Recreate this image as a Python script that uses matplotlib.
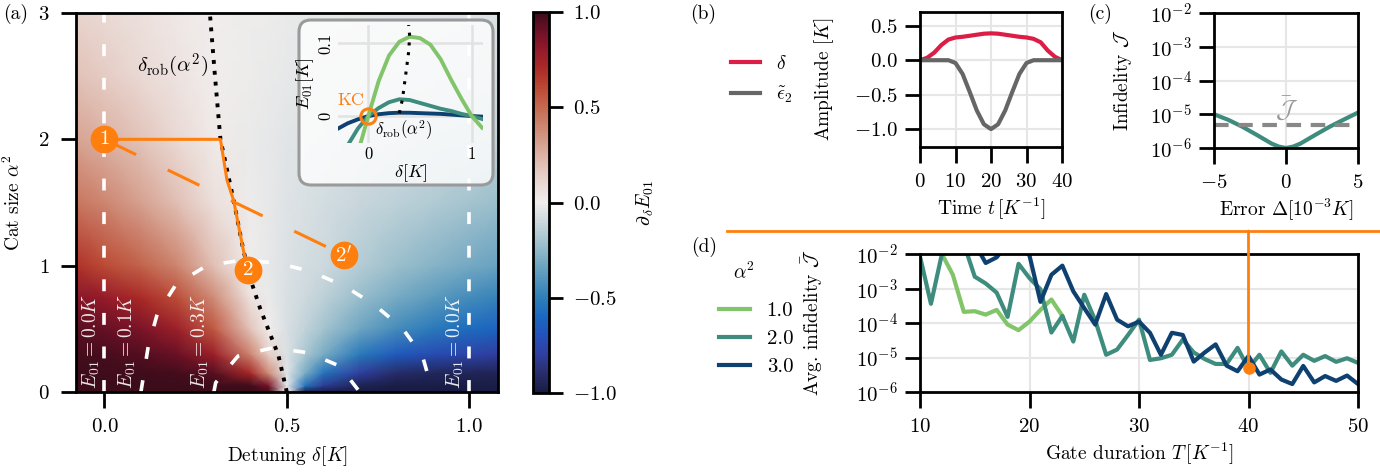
import numpy as np
import matplotlib
matplotlib.use("Agg")
import matplotlib.pyplot as plt
from matplotlib.colors import LinearSegmentedColormap
from matplotlib.patches import FancyBboxPatch, ConnectionPatch
from matplotlib.lines import Line2D
import matplotlib.transforms as mtransforms

FS = 14
TS = 15
plt.rcParams.update({
    "font.family": "serif", "font.serif": ["cmr10"], "mathtext.fontset": "cm",
    "axes.unicode_minus": False, "axes.formatter.use_mathtext": True,
    "font.size": FS, "axes.linewidth": 2.0,
    "xtick.major.size": 11.5, "ytick.major.size": 11,
    "xtick.major.width": 2.0, "ytick.major.width": 2.0,
    "xtick.major.pad": 7, "ytick.major.pad": 5,
    "xtick.labelsize": TS, "ytick.labelsize": TS,
})

# ---------------- data: panel (a) heatmap  d/d(delta) E01 ----------------
delta_grid = [-0.08, 0.0, 0.1, 0.2, 0.3, 0.4, 0.45, 0.5, 0.55, 0.6, 0.7, 0.8, 0.9, 1.0, 1.08]
alpha2_grid = [0.0, 0.05, 0.15, 0.3, 0.5, 0.75, 1.0, 1.5, 2.0, 2.5, 3.0]
dE_row_000 = [1, 1, 1, 1, 1, 1, 1, 0.0, -1, -1, -1, -1, -1, -1, -1]
dE_row_005 = [1, 1, 1, 1, 1, 0.99, 0.87, -0.03, -0.55, -0.82, -0.96, -0.99, -0.99, -0.99, -0.99]
dE_row_015 = [1, 0.99, 0.99, 0.98, 0.94, 0.72, 0.38, -0.04, -0.3, -0.55, -0.8, -0.9, -0.93, -0.94, -0.95]
dE_row_030 = [0.98, 0.97, 0.95, 0.9, 0.76, 0.4, 0.14, -0.06, -0.18, -0.3, -0.52, -0.66, -0.73, -0.77, -0.8]
dE_row_050 = [0.94, 0.91, 0.86, 0.76, 0.55, 0.18, 0.0, -0.07, -0.13, -0.2, -0.33, -0.44, -0.52, -0.58, -0.62]
dE_row_075 = [0.83, 0.79, 0.71, 0.58, 0.38, 0.05, -0.02, -0.07, -0.1, -0.14, -0.23, -0.31, -0.38, -0.44, -0.48]
dE_row_100 = [0.68, 0.60, 0.52, 0.40, 0.20, -0.005, -0.03, -0.055, -0.08, -0.1, -0.16, -0.22, -0.27, -0.32, -0.35]
dE_row_150 = [0.46, 0.40, 0.31, 0.20, 0.07, -0.015, -0.03, -0.05, -0.065, -0.08, -0.11, -0.14, -0.17, -0.20, -0.22]
dE_row_200 = [0.30, 0.25, 0.18, 0.10, 0.02, -0.02, -0.03, -0.04, -0.05, -0.06, -0.08, -0.1, -0.11, -0.12, -0.13]
dE_row_250 = [0.19, 0.15, 0.10, 0.05, 0.0, -0.015, -0.02, -0.03, -0.035, -0.04, -0.05, -0.06, -0.07, -0.08, -0.09]
dE_row_300 = [0.12, 0.1, 0.07, 0.03, 0.0, -0.01, -0.015, -0.02, -0.025, -0.03, -0.035, -0.04, -0.045, -0.05, -0.055]

# E01 contour lines
c00_left_delta, c00_right_delta, c00_alpha2 = [0.0, 0.0], [1.0, 1.0], [0.0, 3.0]
c01_delta = [0.1, 0.105, 0.12, 0.145, 0.196, 0.28, 0.38, 0.475, 0.565, 0.659, 0.74, 0.816, 0.872, 0.9]
c01_alpha2 = [0.0, 0.09, 0.36, 0.62, 0.85, 1.0, 1.045, 1.02, 0.955, 0.837, 0.69, 0.508, 0.284, 0.0]
c03_delta = [0.3, 0.305, 0.366, 0.461, 0.56, 0.645, 0.7]
c03_alpha2 = [0.0, 0.074, 0.284, 0.35, 0.31, 0.205, 0.0]
# robust detuning curve
rob_alpha2 = [0.0, 0.29, 0.49, 0.66, 0.86, 1.12, 1.52, 2.0, 2.5, 3.0]
rob_delta = [0.5, 0.477, 0.45, 0.427, 0.404, 0.381, 0.354, 0.318, 0.303, 0.289]
# orange protocol paths
path_delta = [0.0, 0.318, 0.336, 0.354, 0.381, 0.393]
path_alpha2 = [2.0, 2.0, 1.677, 1.518, 1.121, 0.968]
point_names = ["1", "2", "2'"]
point_delta = [0.0, 0.393, 0.657]
point_alpha2 = [2.0, 0.968, 1.082]
contour_labels = [r"$E_{01}=0.0K$", r"$E_{01}=0.1K$", r"$E_{01}=0.3K$", r"$E_{01}=0.0K$"]
contour_label_delta = [-0.036, 0.063, 0.262, 0.962]

# inset: E01 vs delta
in1_delta = [-0.08, 0.0, 0.1, 0.2, 0.3, 0.4, 0.5, 0.6, 0.7, 0.8, 0.9, 1.0, 1.1]
in1_E = [-0.04, 0.0, 0.048, 0.083, 0.102, 0.109, 0.107, 0.098, 0.078, 0.05, 0.024, 0.0, -0.016]
in2_delta = [-0.19, -0.1, 0.0, 0.1, 0.2, 0.3, 0.4, 0.5, 0.6, 0.7, 0.8, 0.9, 1.0, 1.1]
in2_E = [-0.038, -0.017, 0.0, 0.011, 0.019, 0.023, 0.022, 0.018, 0.014, 0.01, 0.007, 0.003, 0.0, -0.004]
in3_delta = [-0.29, -0.2, -0.1, 0.0, 0.1, 0.2, 0.3, 0.4, 0.5, 0.6, 0.7, 0.8, 0.9, 1.0, 1.1]
in3_E = [-0.017, -0.01, -0.0045, 0.0, 0.0025, 0.004, 0.0046, 0.0045, 0.004, 0.0035, 0.003, 0.002, 0.001, 0.0, -0.0008]
inrob_delta = [0.30, 0.33, 0.36, 0.39, 0.40, 0.39]
inrob_E = [0.004, 0.023, 0.055, 0.088, 0.11, 0.125]

# ---------------- panel (b) ----------------
t_vals = [0, 2, 4, 6, 8, 10, 12, 14, 16, 18, 20, 22, 24, 26, 28, 30, 32, 34, 36, 38, 40]
delta_t = [0, 0.035, 0.11, 0.22, 0.30, 0.33, 0.34, 0.355, 0.37, 0.385, 0.39, 0.385, 0.37, 0.355, 0.34, 0.33, 0.31, 0.26, 0.14, 0.05, 0]
eps_t = [0, 0, 0, 0, 0, -0.04, -0.2, -0.46, -0.73, -0.93, -1.0, -0.93, -0.73, -0.46, -0.2, -0.04, 0, 0, 0, 0, 0]

# ---------------- panel (c) ----------------
err_vals = [-5, -4, -3, -2, -1, -0.5, 0, 0.5, 1, 2, 3, 4, 5]
infid_vals = [1.0e-5, 6.8e-6, 4.2e-6, 2.4e-6, 1.35e-6, 1.1e-6, 1.0e-6, 1.1e-6, 1.35e-6, 2.4e-6, 4.2e-6, 6.9e-6, 1.12e-5]
avg_infid = 4.8e-6
log_ticks = [1e-6, 1e-5, 1e-4, 1e-3, 1e-2]

# ---------------- panel (d) ----------------
nan = np.nan
T_vals = list(range(10, 51))
J_a1 = [nan, 3e-2, 1.0e-2, 2.5e-3, 2.1e-4, 2.2e-4, 1.75e-4, 2.4e-4, 9e-5, 6.2e-5, 1.1e-4, 2.4e-4, 4.8e-4, 1.6e-4] + [nan] * 27
J_a2 = [8.5e-3, 3.6e-4, 1.0e-2, 2.5e-2, 2.0e-2, 2.2e-3, 1.4e-3, 7.6e-4, 1.5e-4, 5.2e-3, 2.0e-3, 9.5e-4, 5.3e-5,
        1.6e-4, 2.9e-5, 6.6e-4, 1.2e-4, 1.2e-5, 1.7e-5, 4.5e-5, 1.25e-4, 8.5e-6, 9.5e-6, 1.2e-5, 3.3e-5, 1.4e-5,
        9e-6, 6.5e-6, 6.5e-6, 1.9e-5, 4.8e-6, 1.2e-5, 3.6e-6, 1.5e-5, 5.8e-6, 1.2e-5, 8e-6, 1.1e-5, 7.5e-6, 9.5e-6, 7e-6]
J_a3 = [nan] * 5 + [2.0e-2, 5.5e-3, 8e-3, 2e-2, 2e-2, 9e-3, 4.1e-4, 2.5e-3, 4.6e-3, 8.3e-4, 2.7e-4, 9e-5, 6.9e-4,
        1.25e-4, 8e-5, 1.1e-4, 5.2e-5, 1.2e-5, 5.2e-5, 4.5e-5, 7.6e-6, 1.4e-5, 2.4e-5, 5.8e-6, 4e-6, 1.1e-5, 3.2e-6,
        4.5e-6, 2.3e-6, 1.7e-6, 5.7e-6, 1.9e-6, 2.9e-6, 2.1e-6, 3e-6, 1.7e-6]
alpha_labels = ["1.0", "2.0", "3.0"]
chosen_T = 40

# ---------------- style ----------------
c_green, c_teal, c_navy = "#82c46a", "#3e8c7e", "#0e4070"
c_red, c_gray, c_orange = "#dc1e46", "#666666", "#ff7f0e"
balance = LinearSegmentedColormap.from_list("balance", [
    (0.00, "#181c43"), (0.05, "#282d6a"), (0.10, "#2f3fa0"), (0.15, "#2352bc"), (0.20, "#1a68c0"),
    (0.25, "#2f7fb8"), (0.30, "#5596bd"), (0.35, "#7badc4"), (0.40, "#a5c4cf"), (0.45, "#cdd9de"),
    (0.50, "#f1eeed"), (0.55, "#ead9d4"), (0.60, "#e1c0b5"), (0.65, "#d7a493"), (0.70, "#cd8771"),
    (0.75, "#c46a51"), (0.80, "#bb4a35"), (0.85, "#ad2c27"), (0.90, "#951a2a"), (0.95, "#6e1127"),
    (1.00, "#3c0c1a")])

W, H = 1380, 472
fig = plt.figure(figsize=(W / 100, H / 100), dpi=100)

def rect(l, t, r, b):
    return [l / W, 1 - b / H, (r - l) / W, (b - t) / H]

ax_a = fig.add_axes(rect(76, 13, 498, 392))
cax = fig.add_axes(rect(533, 12, 549, 393))
ax_b = fig.add_axes(rect(920, 12, 1062, 147))
ax_c = fig.add_axes(rect(1214, 13, 1358, 148))
ax_d = fig.add_axes(rect(920, 254, 1358, 392))
ax_in = fig.add_axes(rect(338, 25, 483, 143), zorder=3)

# ---------------- panel (a) ----------------
dE = np.array([dE_row_000, dE_row_005, dE_row_015, dE_row_030, dE_row_050, dE_row_075,
               dE_row_100, dE_row_150, dE_row_200, dE_row_250, dE_row_300])
Dg, Ag = np.meshgrid(delta_grid, alpha2_grid)
mesh = ax_a.pcolormesh(Dg, Ag, dE, cmap=balance, vmin=-1, vmax=1, shading="gouraud", rasterized=True)
ax_a.set_xlim(-0.078, 1.079)
ax_a.set_ylim(0, 3)
ax_a.set_xticks([0, 0.5, 1.0])
ax_a.set_yticks([0, 1, 2, 3])
ax_a.set_xlabel(r"Detuning $\delta[K]$", labelpad=6)
ax_a.set_ylabel(r"Cat size $\alpha^2$", labelpad=10)
ax_a.tick_params(axis="y", pad=8)

wkw = dict(color="white", lw=2.6, ls=(0, (3.3, 6.0)), zorder=2)
ax_a.plot(c00_left_delta, c00_alpha2, **wkw)
ax_a.plot(c00_right_delta, c00_alpha2, **wkw)
ax_a.plot(c01_delta, c01_alpha2, **wkw)
ax_a.plot(c03_delta, c03_alpha2, **wkw)
for lab, d in zip(contour_labels, contour_label_delta):
    ax_a.text(d, 0.02, lab, rotation=90, ha="center", va="bottom", color="white", alpha=0.9, fontsize=14, zorder=3)

ax_a.plot(rob_delta, rob_alpha2, color="black", lw=2.8, ls=(0, (1, 1.8)), zorder=3)
ax_a.text(0.186, 2.58, r"$\delta_{\mathrm{rob}}(\alpha^2)$", ha="center", va="center", fontsize=15)
ax_a.plot(path_delta, path_alpha2, color=c_orange, lw=2.2, zorder=4, solid_capstyle="butt")
ax_a.plot([point_delta[0], point_delta[2]], [point_alpha2[0], point_alpha2[2]], color=c_orange, lw=2.2,
          ls=(0, (11.5, 11.5)), zorder=4)
for name, d, a in zip(point_names, point_delta, point_alpha2):
    ax_a.plot(d, a, "o", ms=19, color=c_orange, zorder=5)
    ax_a.text(d, a, "$%s$" % name, color="white", ha="center", va="center", fontsize=15, zorder=6)

cb = fig.colorbar(mesh, cax=cax, ticks=[-1, -0.5, 0, 0.5, 1])
cb.outline.set_linewidth(2)
cax.tick_params(length=10, width=2, labelsize=TS, pad=7)
cb.set_label(r"$\partial_\delta E_{01}$", labelpad=13, fontsize=FS)

# inset box
box = FancyBboxPatch((299, H - 185), 194, 165, boxstyle="round,pad=0,rounding_size=12",
                     transform=mtransforms.IdentityTransform(), fc=(1, 1, 1, 0.8), ec="#9a9a9a", lw=2.2, zorder=2)
fig.add_artist(box)
ax_in.set_facecolor("none")
for s in ax_in.spines.values():
    s.set_visible(False)
ax_in.plot(in3_delta, in3_E, color=c_navy, lw=2.8)
ax_in.plot(in2_delta, in2_E, color=c_teal, lw=2.8)
ax_in.plot(in1_delta, in1_E, color=c_green, lw=2.8)
ax_in.plot(inrob_delta, inrob_E, color="black", lw=2.2, ls=(0, (1, 2.2)))
ax_in.plot(0, 0, "o", ms=11, mfc="none", mec=c_orange, mew=2.2)
ax_in.text(-0.17, 0.022, "KC", color=c_orange, ha="center", va="center", fontsize=13)
ax_in.text(0.34, -0.019, r"$\delta_{\mathrm{rob}}(\alpha^2)$", ha="center", va="center", fontsize=12)
ax_in.set_xlim(-0.293, 1.109)
ax_in.set_ylim(-0.037, 0.125)
ax_in.set_xticks([0, 1])
ax_in.set_yticks([0, 0.1])
ax_in.set_xticklabels(["0", "1"])
ax_in.set_yticklabels(["0", "0.1"], rotation=90, va="center")
ax_in.tick_params(length=0, labelsize=12, pad=3)
ax_in.grid(True, color="#e2e2e2", lw=1.8)
ax_in.set_axisbelow(True)
ax_in.set_xlabel(r"$\delta[K]$", fontsize=13, labelpad=0)
ax_in.set_ylabel(r"$E_{01}[K]$", fontsize=13, labelpad=2)

# ---------------- panel (b) ----------------
ax_b.plot(t_vals, delta_t, color=c_red, lw=3)
ax_b.plot(t_vals, eps_t, color=c_gray, lw=3)
ax_b.set_xlim(0, 40)
ax_b.set_ylim(-1.26, 0.70)
ax_b.set_xticks([0, 10, 20, 30, 40])
ax_b.set_yticks([-1.0, -0.5, 0.0, 0.5])
ax_b.grid(True, color="#e6e6e6", lw=1.5)
ax_b.set_axisbelow(True)
ax_b.set_xlabel(r"Time $t\,[K^{-1}]$", labelpad=4)
ax_b.set_ylabel(r"Amplitude $[K]$", labelpad=13)
fig.legend([Line2D([], [], color=c_red, lw=3), Line2D([], [], color=c_gray, lw=3)],
           [r"$\delta$", r"$\tilde{\epsilon}_2$"], loc="center", bbox_to_anchor=(762 / W, 1 - 80 / H),
           frameon=False, handlelength=1.5, fontsize=FS, labelspacing=0.55, handletextpad=0.8)

# ---------------- panel (c) ----------------
ax_c.plot(err_vals, infid_vals, color=c_teal, lw=3)
ax_c.axhline(avg_infid, color="#888888", lw=3, ls=(0, (3.5, 2.3)))
ax_c.text(0.0, 1.5e-5, r"$\bar{\mathcal{J}}$", color="#999999", ha="center", va="center", fontsize=18)
ax_c.set_yscale("log")
ax_c.set_xlim(-5, 5)
ax_c.set_ylim(1e-6, 1e-2)
ax_c.set_xticks([-5, 0, 5])
ax_c.set_yticks(log_ticks)
ax_c.minorticks_off()
ax_c.grid(True, color="#e6e6e6", lw=1.5)
ax_c.set_axisbelow(True)
ax_c.set_xlabel(r"Error $\Delta[10^{-3}K]$", labelpad=4)
ax_c.set_ylabel(r"Infidelity $\mathcal{J}$", labelpad=11)

# ---------------- panel (d) ----------------
l1, = ax_d.plot(T_vals, J_a1, color=c_green, lw=3)
l2, = ax_d.plot(T_vals, J_a2, color=c_teal, lw=3)
l3, = ax_d.plot(T_vals, J_a3, color=c_navy, lw=3)
jT = J_a2[T_vals.index(chosen_T)]
ax_d.plot(chosen_T, jT, "o", ms=8, color=c_orange, zorder=5)
ax_d.set_yscale("log")
ax_d.set_xlim(10, 50)
ax_d.set_ylim(1e-6, 1e-2)
ax_d.set_xticks([10, 20, 30, 40, 50])
ax_d.set_yticks(log_ticks)
ax_d.minorticks_off()
ax_d.grid(True, color="#e6e6e6", lw=1.5)
ax_d.set_axisbelow(True)
ax_d.set_xlabel(r"Gate duration $T\,[K^{-1}]$", labelpad=4)
ax_d.set_ylabel(r"Avg. infidelity $\bar{\mathcal{J}}$", labelpad=22)
fig.text(744 / W, 1 - 272 / H, r"$\alpha^2$", ha="center", va="center", fontsize=FS)
fig.legend([l1, l2, l3], alpha_labels, loc="center",
           bbox_to_anchor=(756 / W, 1 - 339 / H), frameon=False, handlelength=1.5, fontsize=TS,
           labelspacing=0.45, handletextpad=0.8)

# orange connectors
line_y = 1 - 231 / H
fig.add_artist(Line2D([727 / W, 1.0], [line_y, line_y], transform=fig.transFigure, color=c_orange, lw=2))
blend = mtransforms.blended_transform_factory(ax_d.transData, fig.transFigure)
con = ConnectionPatch(xyA=(chosen_T, line_y), coordsA=blend, xyB=(chosen_T, jT), coordsB=ax_d.transData,
                      color=c_orange, lw=2)
fig.add_artist(con)

# panel letters
fig.text(16 / W, 1 - 14 / H, "(a)", ha="center", va="center", fontsize=FS)
fig.text(703 / W, 1 - 14 / H, "(b)", ha="center", va="center", fontsize=FS)
fig.text(1100 / W, 1 - 14 / H, "(c)", ha="center", va="center", fontsize=FS)
fig.text(704 / W, 1 - 247 / H, "(d)", ha="center", va="center", fontsize=FS)

fig.savefig("out.png", dpi=100)
